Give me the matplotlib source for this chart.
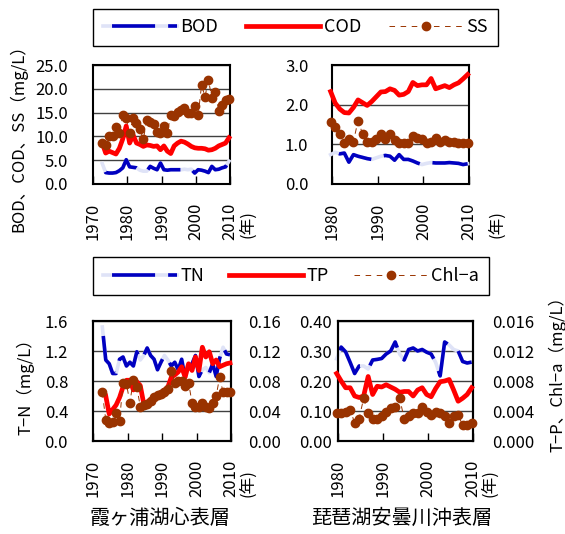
import matplotlib
matplotlib.use("Agg")
import matplotlib.pyplot as plt
from matplotlib.lines import Line2D

plt.rcParams['font.family'] = ['Noto Sans CJK JP', 'DejaVu Sans']
plt.rcParams['lines.scale_dashes'] = False

W, H = 565, 534

# ---- data (annual means) ----
kasumi_years = list(range(1972, 2010))
kasumi_bod = [4.3, 2.4, 2.3, 2.3, 2.4, 2.8, 3.4, 5.1, 3.6, 3.5, 3.4, 2.9, 2.7, 2.7, 3.7, 3.3, 3.0, 4.4, 3.0,
              2.9, 3.0, 3.0, 3.0, 3.0, 3.1, 3.0, 3.1, 2.3, 3.0, 2.9, 2.7, 2.4, 3.7, 3.0, 3.1, 3.4, 3.6, 4.8]
kasumi_cod = [8.6, 6.5, 6.9, 6.6, 6.3, 7.5, 9.5, 12.2, 8.6, 10.3, 8.6, 8.3, 7.9, 8.2, 8.1, 7.9, 8.0, 7.2, 8.0,
              6.9, 6.4, 8.0, 8.6, 9.0, 8.8, 8.4, 7.9, 7.6, 7.5, 7.5, 7.4, 7.1, 7.2, 7.5, 8.0, 8.3, 8.6, 9.7]
kasumi_ss = [8.7, 8.2, 10.1, 10.1, 11.9, 10.8, 14.5, 13.8, 10.8, 13.8, 12.9, 11.5, 9.4, 13.4, 13.0, 12.7, 11.0,
             10.8, 12.2, 10.8, 14.5, 14.3, 15.2, 15.5, 15.9, 14.9, 15.0, 16.3, 14.5, 20.8, 18.3, 21.9, 18.0,
             19.4, 15.4, 16.6, 17.6, 17.9]
kasumi_tn = [1.52, 1.08, 1.03, 0.90, 0.90, 1.09, 1.12, 1.00, 1.05, 1.00, 1.19, 1.08, 1.14, 1.24, 1.14, 1.09,
             0.95, 1.05, 1.14, 1.08, 1.00, 1.05, 0.95, 1.09, 0.84, 1.00, 1.03, 1.14, 0.86, 0.95, 0.98, 0.91,
             1.03, 0.86, 1.10, 1.25, 1.16, 1.15]
kasumi_tp_years = list(range(1973, 2010))
kasumi_tp = [0.060, 0.036, 0.042, 0.048, 0.058, 0.072, 0.081, 0.081, 0.068, 0.079, 0.074, 0.050, 0.052, 0.055,
             0.058, 0.061, 0.064, 0.068, 0.072, 0.085, 0.088, 0.092, 0.099, 0.085, 0.103, 0.094, 0.112, 0.094,
             0.125, 0.112, 0.119, 0.103, 0.108, 0.099, 0.101, 0.103, 0.104]
kasumi_chla = [0.065, 0.028, 0.024, 0.026, 0.037, 0.027, 0.078, 0.076, 0.051, 0.082, 0.072, 0.046, 0.048, 0.050,
               0.054, 0.059, 0.061, 0.063, 0.066, 0.070, 0.094, 0.078, 0.080, 0.080, 0.074, 0.078, 0.051, 0.046,
               0.046, 0.051, 0.046, 0.044, 0.051, 0.060, 0.085, 0.065, 0.065, 0.065]

biwa_years = list(range(1979, 2010))
biwa_bod = [0.74, 0.80, 0.76, 0.78, 0.55, 0.74, 0.70, 0.67, 0.64, 0.62, 0.66, 0.70, 0.72, 0.70, 0.60, 0.74,
            0.62, 0.62, 0.58, 0.53, 0.49, 0.52, 0.54, 0.53, 0.53, 0.53, 0.54, 0.53, 0.52, 0.49, 0.51]
biwa_cod = [2.33, 2.04, 1.89, 1.80, 1.79, 1.93, 2.12, 2.05, 1.98, 2.08, 2.20, 2.32, 2.33, 2.40, 2.36, 2.24,
            2.26, 2.33, 2.56, 2.48, 2.50, 2.50, 2.66, 2.40, 2.44, 2.48, 2.43, 2.50, 2.55, 2.65, 2.76]
biwa_ss = [1.56, 1.43, 1.26, 1.03, 1.13, 1.07, 1.60, 1.26, 1.07, 1.07, 1.13, 1.26, 1.13, 1.26, 1.11, 1.03,
           1.03, 1.03, 1.22, 1.16, 1.13, 1.03, 1.07, 1.16, 1.07, 1.11, 1.07, 1.05, 1.03, 1.03, 1.03]
biwa_tn = [0.274, 0.313, 0.297, 0.262, 0.225, 0.250, 0.250, 0.240, 0.270, 0.272, 0.275, 0.290, 0.300, 0.330,
           0.290, 0.270, 0.305, 0.310, 0.300, 0.305, 0.296, 0.290, 0.262, 0.217, 0.330, 0.320, 0.305, 0.300,
           0.265, 0.260, 0.263]
biwa_tp = [0.0090, 0.0080, 0.0071, 0.0071, 0.0060, 0.0058, 0.0060, 0.0086, 0.0062, 0.0073, 0.0072, 0.0075,
           0.0072, 0.0069, 0.0065, 0.0066, 0.0066, 0.0060, 0.0068, 0.0071, 0.0062, 0.0059, 0.0070, 0.0079,
           0.0080, 0.0082, 0.0068, 0.0053, 0.0057, 0.0062, 0.0071]
biwa_chla = [0.0037, 0.0038, 0.0039, 0.0042, 0.0024, 0.0030, 0.0057, 0.0037, 0.0030, 0.0030, 0.0033, 0.0039,
             0.0044, 0.0046, 0.0057, 0.0030, 0.0033, 0.0037, 0.0037, 0.0046, 0.0039, 0.0035, 0.0039, 0.0037,
             0.0033, 0.0024, 0.0033, 0.0035, 0.0021, 0.0021, 0.0024]

DARK = '#0000c0'
LIGHT = '#dfe3f7'
RED = '#ff0000'
BROWN = '#993300'
BLUE_DASH = (33.9, (31, 9.4))
YEAR_SHIFT = 0.7  # values are plotted a bit after the year tick (fiscal year)


def rect(x0, y0, x1, y1):
    return [x0 / W, 1 - y1 / H, (x1 - x0) / W, (y1 - y0) / H]


def shift(years):
    return [y + YEAR_SHIFT for y in years]


def blue_line(ax, x, y):
    ax.plot(x, y, color=LIGHT, lw=2.6, clip_on=False, zorder=3)
    ax.plot(x, y, color=DARK, lw=2.6, ls=BLUE_DASH, clip_on=False, zorder=3)


def red_line(ax, x, y):
    ax.plot(x, y, color=RED, lw=3.4, clip_on=False, zorder=4)


def brown_dots(ax, x, y):
    ax.plot(x, y, color=BROWN, lw=0.7, ls=(0, (4, 4)), marker='o', ms=6,
            mfc=BROWN, mec=BROWN, clip_on=False, zorder=5)


def setup(ax, x0, ylim, yticks, fmt, ypad):
    ax.set_xlim(x0, 2010)
    ax.set_ylim(*ylim)
    ax.set_yticks(yticks)
    ax.set_yticklabels([fmt % v for v in yticks])
    xt = list(range(x0, 2011, 10))
    ax.set_xticks(xt)
    ax.set_xticklabels([str(v) for v in xt], rotation=90)
    ax.tick_params(axis='x', direction='in', length=6, width=1, pad=13.5, labelsize=12)
    ax.tick_params(axis='y', length=0, pad=ypad, labelsize=12)
    ax.grid(axis='y', color='#404040', lw=1)
    ax.set_axisbelow(True)
    for s in ax.spines.values():
        s.set_linewidth(1.5)


fig = plt.figure(figsize=(W / 100, H / 100), dpi=100)

# top left: Kasumigaura BOD/COD/SS
ax1 = fig.add_axes(rect(93, 65, 230, 184))
setup(ax1, 1970, (0, 25), [0, 5, 10, 15, 20, 25], '%.1f', 18)
blue_line(ax1, shift(kasumi_years), kasumi_bod)
red_line(ax1, shift(kasumi_years), kasumi_cod)
brown_dots(ax1, shift(kasumi_years), kasumi_ss)

# top right: Biwa BOD/COD/SS
ax2 = fig.add_axes(rect(332, 65, 469, 184))
setup(ax2, 1980, (0, 3), [0, 1, 2, 3], '%.1f', 17)
blue_line(ax2, shift(biwa_years), biwa_bod)
red_line(ax2, shift(biwa_years), biwa_cod)
brown_dots(ax2, shift(biwa_years), biwa_ss)

# bottom left: Kasumigaura TN / TP, Chl-a
ax3 = fig.add_axes(rect(93, 321, 231, 441))
setup(ax3, 1970, (0, 1.6), [0, 0.4, 0.8, 1.2, 1.6], '%.1f', 18)
blue_line(ax3, shift(kasumi_years), kasumi_tn)
ax3r = ax3.twinx()
ax3r.set_ylim(0, 0.16)
ax3r.set_yticks([0, 0.04, 0.08, 0.12, 0.16])
ax3r.set_yticklabels(['%.2f' % v for v in [0, 0.04, 0.08, 0.12, 0.16]])
ax3r.tick_params(axis='y', length=0, pad=12, labelsize=12)
red_line(ax3r, shift(kasumi_tp_years), kasumi_tp)
brown_dots(ax3r, shift(kasumi_years), kasumi_chla)

# bottom right: Biwa TN / TP, Chl-a
ax4 = fig.add_axes(rect(338, 321, 473, 441))
setup(ax4, 1980, (0, 0.4), [0, 0.1, 0.2, 0.3, 0.4], '%.2f', 4.5)
blue_line(ax4, shift(biwa_years), biwa_tn)
ax4r = ax4.twinx()
ax4r.set_ylim(0, 0.016)
ax4r.set_yticks([0, 0.004, 0.008, 0.012, 0.016])
ax4r.set_yticklabels(['%.3f' % v for v in [0, 0.004, 0.008, 0.012, 0.016]])
ax4r.tick_params(axis='y', length=0, pad=14, labelsize=12)
red_line(ax4r, shift(biwa_years), biwa_tp)
brown_dots(ax4r, shift(biwa_years), biwa_chla)

for ax in (ax3r, ax4r):
    for s in ax.spines.values():
        s.set_linewidth(1.5)


# legends
def make_handles():
    blue = (Line2D([], [], color=LIGHT, lw=2.6),
            Line2D([], [], color=DARK, lw=2.6, ls=BLUE_DASH))
    red = Line2D([], [], color=RED, lw=3.4)
    brown = Line2D([], [], color=BROWN, lw=0.7, ls=(0, (4, 4)), marker='o', ms=6,
                   mfc=BROWN, mec=BROWN)
    return [blue, red, brown]


def box_legend(labels, r):
    leg = fig.legend(make_handles(), labels, loc='center', bbox_to_anchor=r, mode='expand',
                     ncol=3, fontsize=13, handlelength=4.1, handletextpad=0.2, numpoints=1,
                     borderpad=0.55, borderaxespad=0, frameon=True, fancybox=False,
                     edgecolor='black', framealpha=1)
    leg.get_frame().set_linewidth(1.0)
    return leg


box_legend(['BOD', 'COD', 'SS'], rect(93, 7, 498, 48))
box_legend(['TN', 'TP', 'Chl−a'], rect(93, 256, 489, 296))

# axis labels and titles
fig.text(18 / W, 1 - 134 / H, 'BOD、COD、SS（mg/L）', rotation=90, ha='center', va='center', fontsize=12)
fig.text(25 / W, 1 - 383 / H, 'T−N（mg/L）', rotation=90, ha='center', va='center', fontsize=12)
fig.text(557 / W, 1 - 370 / H, 'T−P、Chl−a（mg/L）', rotation=90, ha='center', va='center', fontsize=12)
for x, y in [(248, 224), (497, 224), (248, 483), (490, 483)]:
    fig.text(x / W, 1 - y / H, '(年)', rotation=90, ha='center', va='center', fontsize=12)
fig.text(160 / W, 1 - 518 / H, '霞ヶ浦湖心表層', ha='center', va='center', fontsize=14.5)
fig.text(402 / W, 1 - 518 / H, '琵琶湖安曇川沖表層', ha='center', va='center', fontsize=14.5)

fig.savefig('out.png', dpi=100)
